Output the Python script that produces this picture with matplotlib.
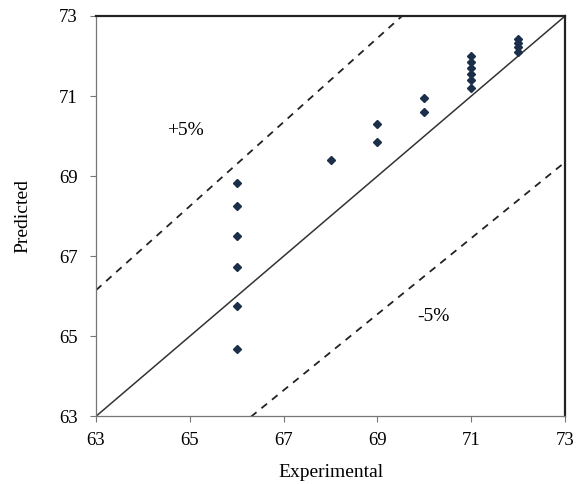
import matplotlib

matplotlib.use("Agg")
import matplotlib.pyplot as plt

plt.rcParams["font.family"] = ["Liberation Serif", "DejaVu Serif"]

# 实验值 / 预测值
experimental = [66, 66, 66, 66, 66, 66,
                68,
                69, 69,
                70, 70,
                71, 71, 71, 71, 71, 71,
                72, 72, 72, 72]
predicted = [64.68, 65.75, 66.73, 67.5, 68.25, 68.83,
             69.4,
             69.85, 70.3,
             70.6, 70.95,
             71.2, 71.4, 71.55, 71.7, 71.85, 72.0,
             72.1, 72.23, 72.33, 72.43]

lims = [63, 73]
ticks = [63, 65, 67, 69, 71, 73]
band = 0.05

fig = plt.figure(figsize=(5.82, 4.84), dpi=100)
ax = fig.add_axes([0.165, 0.14, 0.806, 0.827])

ax.plot(lims, lims, "-", color="#333333", linewidth=1.1)
ax.plot(lims, [v * (1 + band) for v in lims], "--", color="#222222",
        linewidth=1.3, dashes=(4, 3.5))
ax.plot(lims, [v * (1 - band) for v in lims], "--", color="#222222",
        linewidth=1.3, dashes=(4, 3.5))
ax.plot(experimental, predicted, "D", color="#1c2f4a", markersize=4.0,
        linestyle="none")

ax.text(64.9, 70.15, "+5%", fontsize=14, ha="center", va="center")
ax.text(70.2, 65.5, "-5%", fontsize=14, ha="center", va="center")

ax.set_xlim(lims)
ax.set_ylim(lims)
ax.set_xticks(ticks)
ax.set_yticks(ticks)
ax.tick_params(direction="out", length=4, width=0.8, color="#777777",
               labelsize=13.5)
ax.tick_params(axis="y", pad=9)
ax.tick_params(axis="x", pad=7)
ax.set_xlabel("Experimental", fontsize=14, labelpad=11)
ax.set_ylabel("Predicted", fontsize=14, labelpad=20)

for side in ("left", "bottom"):
    ax.spines[side].set_color("#777777")
    ax.spines[side].set_linewidth(0.9)
for side in ("top", "right"):
    ax.spines[side].set_color("#222222")
    ax.spines[side].set_linewidth(1.6)

fig.savefig("out.png", dpi=100)
